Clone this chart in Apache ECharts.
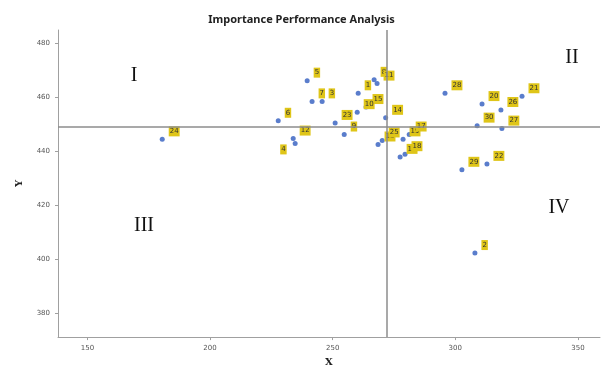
<!DOCTYPE html>
<html><head><meta charset="utf-8">
<script src="https://cdn.jsdelivr.net/npm/echarts@6/dist/echarts.min.js"></script>
<style>html,body{margin:0;padding:0;background:#fff}#c{width:603px;height:372px}</style>
</head><body><div id="c"></div>
<script>
// Data
const labels = ['24','5','7','3','6','12','4','8','11','1','15','14','23','10','9','13','25','19','17','16','18','28','20','26','21','30','27','29','22','2'];
const xValues = [180.5,239.6,241.6,245.7,227.8,233.9,234.7,266.9,268.1,260.4,263.6,271.6,251.0,260.0,254.7,268.5,270.2,278.7,281.2,277.5,279.5,295.8,310.9,318.6,327.2,308.9,319.0,302.7,312.9,308.0];
const yValues = [444.4,466.2,458.5,458.5,451.3,444.7,442.9,466.5,465.1,461.5,456.4,452.4,450.5,454.5,446.2,442.5,444.0,444.4,446.2,437.9,438.9,461.5,457.5,455.3,460.4,449.5,448.4,433.1,435.3,402.2];
const xTicks = [150,200,250,300,350];
const yTicks = [380,400,420,440,460,480];
const xRef = 272.2;
const yRef = 449.1;
const quadrants = [
  {text:'I', x:134, y:76},
  {text:'II', x:572, y:58},
  {text:'III', x:144, y:226},
  {text:'IV', x:559, y:208}
];
const leftLabels = ['4'];

const points = xValues.map((x,i)=>{
  const left = leftLabels.includes(labels[i]);
  return {
    value:[x,yValues[i]], name:labels[i],
    label: left ? {position:'left', offset:[-1,6]} : {position:'right', offset:[-1,-8]}
  };
});

const chart = echarts.init(document.getElementById('c'), null, {renderer:'canvas'});
chart.setOption({
  animation:false,
  backgroundColor:'#fff',
  title:{text:'Importance Performance Analysis', left:'center', top:9,
    textStyle:{fontSize:11, fontWeight:'bold', color:'#222', fontFamily:'Noto Sans'}},
  grid:{left:58, right:3, top:30, bottom:29, containLabel:false},
  xAxis:{type:'value', min:138, max:359,
    name:'X', nameLocation:'middle', nameGap:19,
    nameTextStyle:{fontSize:10, fontWeight:'bold', color:'#222', fontFamily:'DejaVu Serif'},
    axisLine:{show:true, onZero:false, lineStyle:{color:'#a0a0a0', width:1}},
    splitLine:{show:false},
    axisTick:{show:true, length:3, lineStyle:{color:'#a0a0a0'}, customValues:xTicks},
    axisLabel:{fontSize:7, color:'#555', fontFamily:'DejaVu Sans', customValues:xTicks}},
  yAxis:{type:'value', min:371, max:485,
    name:'Y', nameLocation:'middle', nameGap:34, nameRotate:90,
    nameTextStyle:{fontSize:10, fontWeight:'bold', color:'#222', fontFamily:'DejaVu Serif'},
    axisLine:{show:true, onZero:false, lineStyle:{color:'#a0a0a0', width:1}},
    splitLine:{show:false},
    axisTick:{show:true, length:3, lineStyle:{color:'#a0a0a0'}, customValues:yTicks},
    axisLabel:{fontSize:7, color:'#555', fontFamily:'DejaVu Sans', customValues:yTicks}},
  graphic: quadrants.map(q=>({type:'text', x:q.x, y:q.y,
    style:{text:q.text, font:'20px "Liberation Serif"', fill:'#111', align:'center', verticalAlign:'middle'}})),
  series:[{
    type:'scatter', data:points, symbolSize:5,
    itemStyle:{color:'#5a7dcc', opacity:1},
    label:{show:true, formatter:'{b}', fontSize:7, color:'#333', fontFamily:'DejaVu Sans',
      backgroundColor:'#dfc518', padding:[2,1,1,1]},
    markLine:{silent:true, symbol:'none', label:{show:false},
      lineStyle:{color:'#8c8c8c', type:'solid', width:1.5},
      data:[{xAxis:xRef},{yAxis:yRef}]},
    z:3
  }]
});
</script></body></html>
